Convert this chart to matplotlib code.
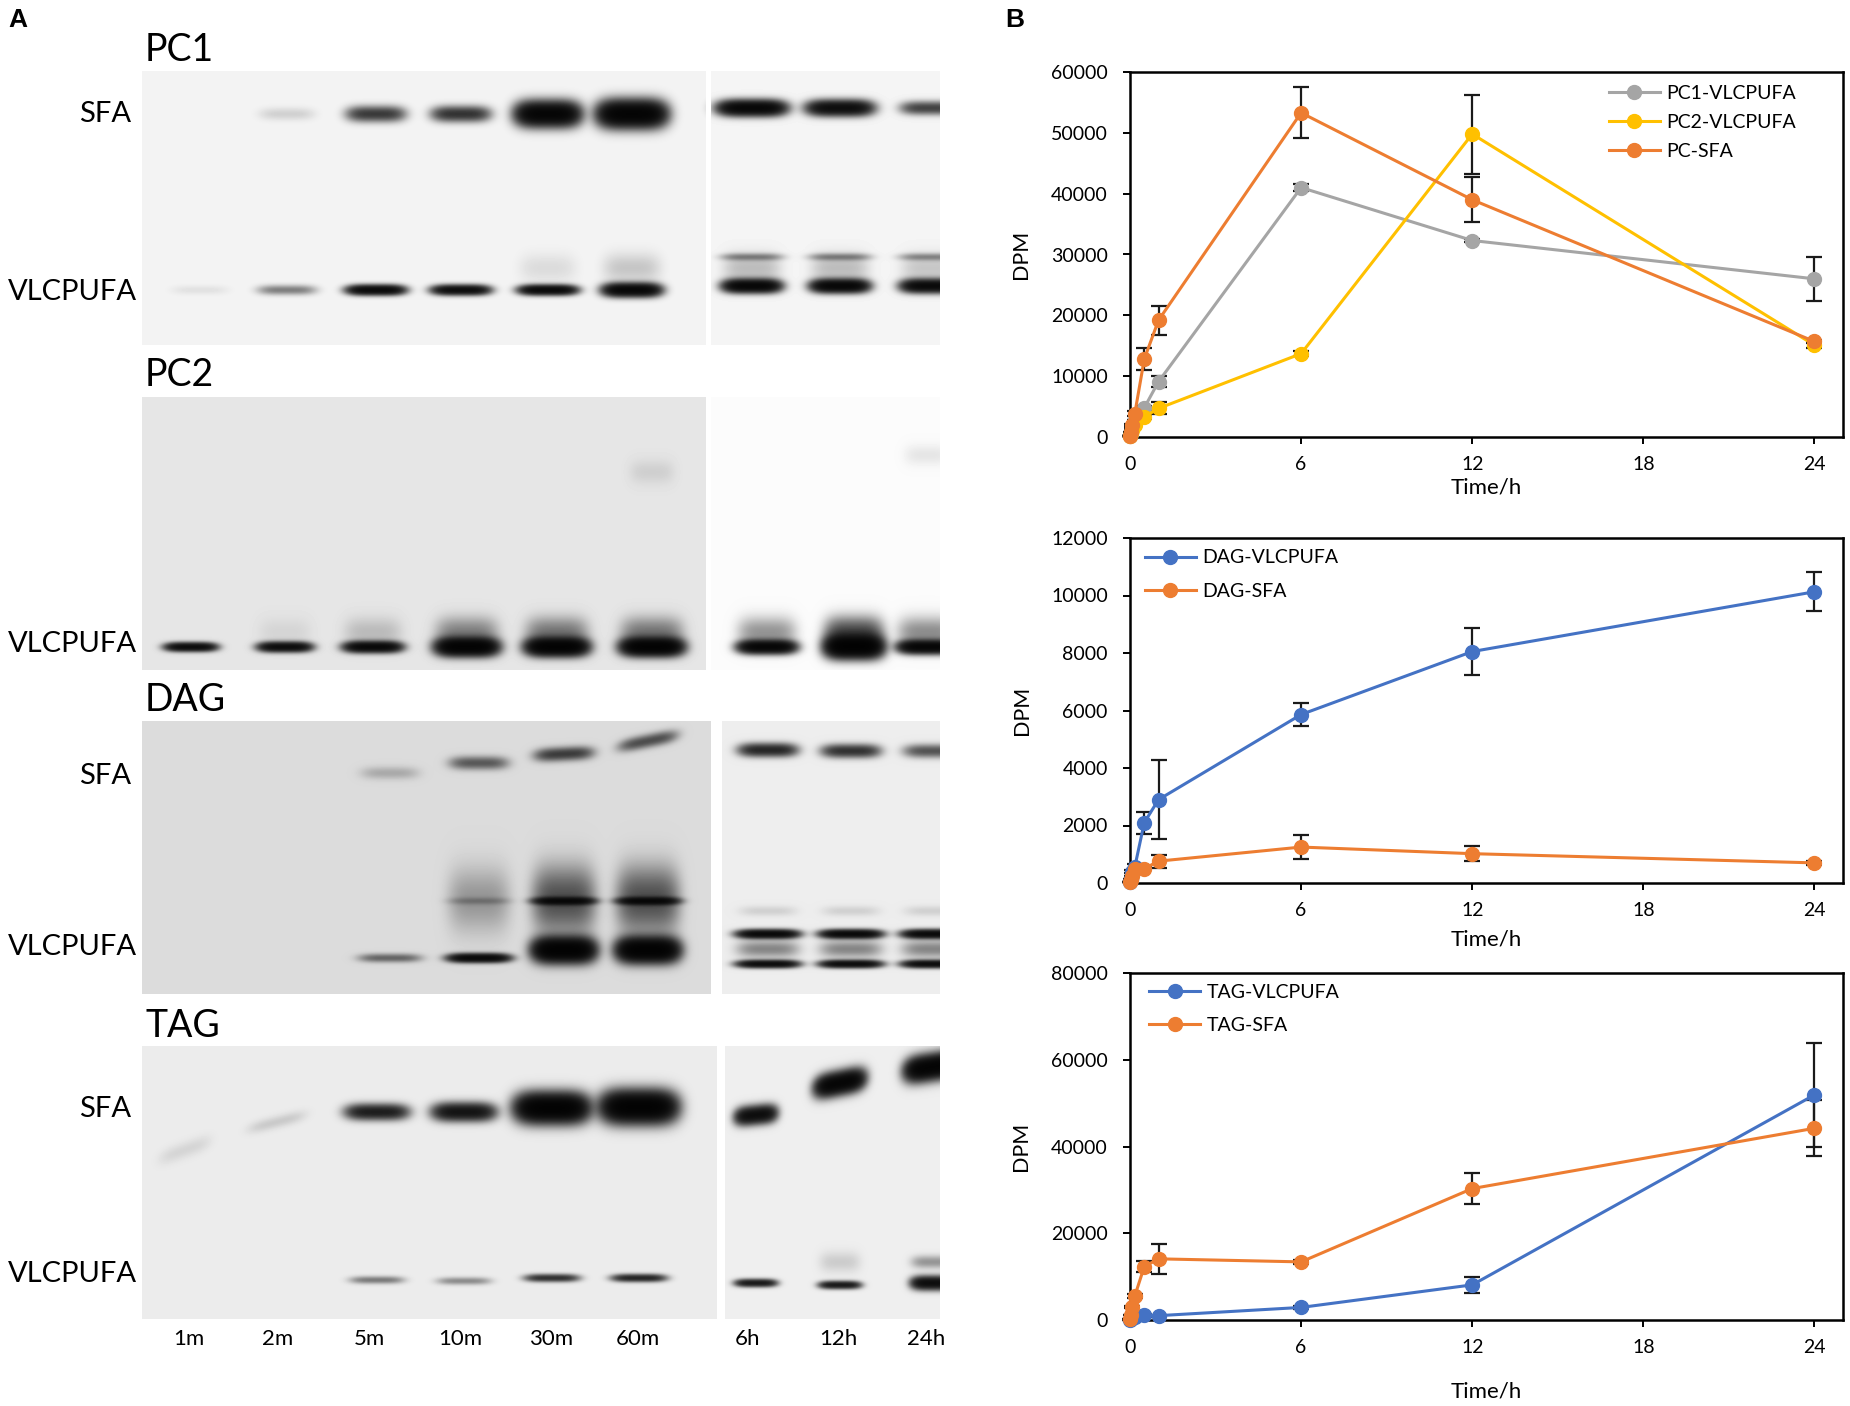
import numpy as np
import matplotlib.pyplot as plt

W, H = 1850, 1406
plt.rcParams['font.family'] = ['Lato', 'DejaVu Sans']

# ---------------- data ----------------
time_h = [1 / 60, 2 / 60, 5 / 60, 10 / 60, 0.5, 1, 6, 12, 24]
lane_labels = ['1m', '2m', '5m', '10m', '30m', '60m', '6h', '12h', '24h']

# panel B, DPM
pc1_vlcpufa = [150, 500, 1500, 2800, 4800, 9100, 41000, 32300, 26000]
pc1_vlcpufa_err = [0, 0, 0, 0, 300, 900, 600, 300, 3600]
pc2_vlcpufa = [200, 600, 1200, 2000, 3300, 4700, 13700, 49800, 15100]
pc2_vlcpufa_err = [0, 0, 0, 0, 300, 1000, 400, 6500, 500]
pc_sfa = [100, 800, 2000, 3800, 12800, 19200, 53300, 39000, 15700]
pc_sfa_err = [0, 0, 200, 400, 1850, 2400, 4200, 3700, 300]

dag_vlcpufa = [50, 150, 400, 550, 2100, 2900, 5860, 8050, 10130]
dag_vlcpufa_err = [0, 0, 50, 100, 380, 1380, 390, 830, 680]
dag_sfa = [30, 100, 250, 470, 500, 760, 1250, 1020, 700]
dag_sfa_err = [0, 0, 0, 50, 60, 230, 410, 270, 80]

tag_vlcpufa = [100, 300, 600, 800, 1100, 1000, 2900, 8100, 51900]
tag_vlcpufa_err = [0, 0, 0, 0, 200, 200, 300, 1900, 12000]
tag_sfa = [300, 1200, 3000, 5500, 12300, 14100, 13400, 30300, 44200]
tag_sfa_err = [0, 0, 300, 500, 1200, 3500, 500, 3600, 6500]

# panel A, band darkness per lane (0 none, >1 saturated), read by eye
pc1_sfa_band = [0.0, 0.06, 0.55, 0.6, 1.4, 1.5, 1.3, 1.1, 0.5]
pc1_vlc_band = [0.03, 0.25, 1.2, 1.1, 1.2, 1.3, 1.3, 1.3, 1.2]
pc1_upper_band = [0.0, 0.0, 0.0, 0.0, 0.0, 0.0, 0.22, 0.22, 0.2]
pc1_smear = [0.0, 0.0, 0.0, 0.0, 0.04, 0.08, 0.1, 0.1, 0.08]
pc2_vlc_band = [1.1, 1.1, 1.2, 1.5, 1.5, 1.5, 1.3, 1.6, 1.3]
pc2_smear = [0.0, 0.03, 0.08, 0.22, 0.25, 0.25, 0.2, 0.45, 0.22]
dag_sfa_band = [0.0, 0.0, 0.1, 0.35, 0.5, 0.4, 0.7, 0.6, 0.4]
dag_vlc_band = [0.0, 0.0, 0.3, 1.2, 1.6, 1.6, 1.1, 1.1, 1.1]
dag_upper_band = [0.0, 0.0, 0.0, 0.12, 0.9, 0.9, 1.2, 1.2, 1.2]
dag_smear = [0.0, 0.0, 0.0, 0.15, 0.4, 0.4, 0.22, 0.22, 0.22]
tag_sfa_band = [0.04, 0.06, 0.8, 0.95, 1.6, 1.6, 1.1, 1.4, 1.5]
tag_vlc_band = [0.0, 0.0, 0.25, 0.2, 0.6, 0.7, 0.85, 0.85, 1.1]

# ---------------- layout (pixels) ----------------
pc1_x = [200, 287, 376, 461, 548, 632, 752, 840, 930]
pc2_x = [191, 285, 373, 467, 557, 652, 767, 854, 927]
dag_x = [205, 295, 390, 479, 564, 648, 768, 851, 933]
tag_x = [185, 277, 377, 464, 552, 639, 756, 840, 932]
lane_label_x = [189, 278, 369, 460, 551, 638, 748, 838, 926]

fig = plt.figure(figsize=(W / 100, H / 100), dpi=100)


def fx(x):
    return x / W


def fy(y):
    return 1 - y / H


# ---------------- panel A: gels ----------------
gx0, gx1, gy0, gy1 = 0, 960, 60, 1330
X, Y = np.meshgrid(np.arange(gx0, gx1) + 0.5, np.arange(gy0, gy1) + 0.5)
bg = np.ones_like(X)
od = np.zeros_like(X)

segments = [  # x0, y0, x1, y1, background
    (142, 71, 706, 345, 0.955), (711, 71, 940, 345, 0.96),
    (142, 397, 706, 670, 0.90), (711, 397, 940, 670, 0.985),
    (142, 721, 711, 994, 0.86), (722, 721, 940, 994, 0.93),
    (142, 1046, 717, 1319, 0.925), (725, 1046, 940, 1319, 0.935),
]
inside = np.zeros_like(X, dtype=bool)
for x0, y0, x1, y1, b in segments:
    m = (X >= x0) & (X < x1) & (Y >= y0) & (Y < y1)
    bg[m] = b
    inside |= m


def band(cx, cy, inten, hw, hh, tilt=0.0):
    global od
    if inten <= 0:
        return
    dx = X - cx
    dy = Y - cy - tilt * dx
    od = od + inten * np.exp(-np.abs(dx / hw) ** 4) * np.exp(-(dy / hh) ** 2)


# PC1
pc1_sfa_hw = [26, 27, 28, 28, 31, 33, 33, 32, 28]
pc1_sfa_hh = [6, 6, 7, 7, 11, 12, 7, 7, 6]
for i, x in enumerate(pc1_x):
    right = i >= 6
    band(x, 108 if right else 114, pc1_sfa_band[i], pc1_sfa_hw[i], pc1_sfa_hh[i])
    band(x, 286 if right else 290, pc1_vlc_band[i], 28, 4.5 if i < 5 else 6)
    band(x, 257, pc1_upper_band[i], 30, 3.5)
    band(x, 268, pc1_smear[i], 28, 14)

# PC2
pc2_hh = [4, 4.5, 5, 8, 8, 8, 6, 10, 6]
pc2_hw = [25, 26, 28, 30, 30, 30, 28, 28, 28]
for i, x in enumerate(pc2_x):
    band(x, 647, pc2_vlc_band[i], pc2_hw[i], pc2_hh[i])
    band(x, 632, pc2_smear[i], pc2_hw[i], 14)
band(pc2_x[5], 472, 0.04, 22, 12)
band(pc2_x[8], 455, 0.035, 22, 10)

# DAG
dag_sfa_y = [790, 785, 773, 763, 754, 741, 750, 751, 751]
dag_sfa_tilt = [0, 0, 0, 0, -0.05, -0.2, 0, 0, 0]
for i, x in enumerate(dag_x):
    band(x, dag_sfa_y[i], dag_sfa_band[i], 28, 6, dag_sfa_tilt[i])
    if i < 6:
        big = i >= 4
        band(x, 950 if big else 958, dag_vlc_band[i], 30, 11 if big else 4)
        band(x, 901, dag_upper_band[i], 30, 3.5)
        band(x, 900, dag_smear[i], 30, 30)
    else:
        band(x, 964, dag_vlc_band[i], 30, 3.5)
        band(x, 934, dag_upper_band[i], 30, 4)
        band(x, 949, dag_smear[i], 30, 8)
        band(x, 911, 0.05, 28, 5)

# TAG
tag_sfa_y = [1150, 1122, 1112, 1112, 1108, 1107, 1115, 1083, 1067]
tag_sfa_hw = [25, 28, 30, 30, 35, 36, 20, 24, 26]
tag_sfa_hh = [8, 6, 7, 8, 13, 14, 8, 10, 11]
tag_sfa_tilt = [-0.35, -0.25, 0, 0, 0, 0, -0.1, -0.2, -0.15]
tag_vlc_y = [1280, 1280, 1280, 1281, 1278, 1278, 1283, 1285, 1283]
for i, x in enumerate(tag_x):
    band(x, tag_sfa_y[i], tag_sfa_band[i], tag_sfa_hw[i], tag_sfa_hh[i], tag_sfa_tilt[i])
    band(x, tag_vlc_y[i], tag_vlc_band[i], 26 if i < 6 else 20, 6 if i == 8 else 3.5)
band(tag_x[8], 1262, 0.18, 20, 6)
band(tag_x[7], 1262, 0.06, 20, 10)

img = np.where(inside, bg * np.exp(-2.6 * od), 1.0)

axg = fig.add_axes([fx(gx0), fy(gy1), fx(gx1 - gx0), (gy1 - gy0) / H])
axg.imshow(img, cmap='gray', vmin=0, vmax=1, extent=(gx0, gx1, gy1, gy0),
           interpolation='bilinear', aspect='auto')
axg.set_xlim(gx0, gx1)
axg.set_ylim(gy1, gy0)
axg.axis('off')

fig.text(fx(8), fy(20), 'A', fontsize=19, fontweight='bold',
         family='Liberation Sans', va='center', ha='left')
fig.text(fx(1005), fy(20), 'B', fontsize=19, fontweight='bold',
         family='Liberation Sans', va='center', ha='left')

for name, y in [('PC1', 50), ('PC2', 375), ('DAG', 700), ('TAG', 1026)]:
    fig.text(fx(145), fy(y), name, fontsize=27, va='center', ha='left')
for y in [114, 776, 1109]:
    fig.text(fx(131), fy(y), 'SFA', fontsize=21, va='center', ha='right')
for y in [292, 644, 947, 1274]:
    fig.text(fx(8), fy(y), 'VLCPUFA', fontsize=21, va='center', ha='left')
for x, lab in zip(lane_label_x, lane_labels):
    fig.text(fx(x), fy(1339), lab, fontsize=16, va='center', ha='center')

# ---------------- panel B: time courses ----------------
gray, yellow, orange, blue = '#A5A5A5', '#FFC000', '#ED7D31', '#4472C4'


def make_axes(top, bottom, left=1130, right=1843):
    return fig.add_axes([fx(left), fy(bottom), (right - left) / W, (bottom - top) / H])


def series(ax, y, err, color, label):
    e = np.array(err, dtype=float)
    ax.errorbar(time_h, y, yerr=e, fmt='none', ecolor='#1a1a1a', elinewidth=1.6,
                capsize=5.5, capthick=1.6, zorder=2, clip_on=False)
    ax.plot(time_h, y, '-o', color=color, lw=2.2, ms=10, label=label,
            zorder=3, clip_on=False)


def style(ax, ymax, ystep, time_y, legend_xy, spacing):
    ax.set_xlim(0, 25)
    ax.set_ylim(0, ymax)
    ax.set_xticks([0, 6, 12, 18, 24])
    ax.set_yticks(np.arange(0, ymax + 1, ystep))
    ax.tick_params(direction='out', length=5, width=1.4, labelsize=14)
    ax.tick_params(axis='y', pad=11)
    ax.tick_params(axis='x', pad=9)
    for s in ax.spines.values():
        s.set_linewidth(1.8)
    ax.set_ylabel('DPM', fontsize=15.5, labelpad=14)
    pos = ax.get_position()
    fig.text(pos.x0 + pos.width / 2, fy(time_y), 'Time/h', fontsize=16,
             ha='center', va='center')
    ax.legend(loc='upper left', bbox_to_anchor=legend_xy, frameon=False,
              fontsize=14, handlelength=2.6, handletextpad=0.35,
              labelspacing=spacing, borderpad=0, borderaxespad=0)


ax1 = make_axes(72, 437)
series(ax1, pc1_vlcpufa, pc1_vlcpufa_err, gray, 'PC1-VLCPUFA')
series(ax1, pc2_vlcpufa, pc2_vlcpufa_err, yellow, 'PC2-VLCPUFA')
series(ax1, pc_sfa, pc_sfa_err, orange, 'PC-SFA')
style(ax1, 60000, 10000, 487, (0.672, 0.965), 0.62)

ax2 = make_axes(538, 883)
series(ax2, dag_vlcpufa, dag_vlcpufa_err, blue, 'DAG-VLCPUFA')
series(ax2, dag_sfa, dag_sfa_err, orange, 'DAG-SFA')
style(ax2, 12000, 2000, 939, (0.021, 0.967), 0.85)

ax3 = make_axes(973, 1320)
series(ax3, tag_vlcpufa, tag_vlcpufa_err, blue, 'TAG-VLCPUFA')
series(ax3, tag_sfa, tag_sfa_err, orange, 'TAG-SFA')
style(ax3, 80000, 20000, 1391, (0.027, 0.969), 0.85)

fig.savefig('out.png', dpi=100)
